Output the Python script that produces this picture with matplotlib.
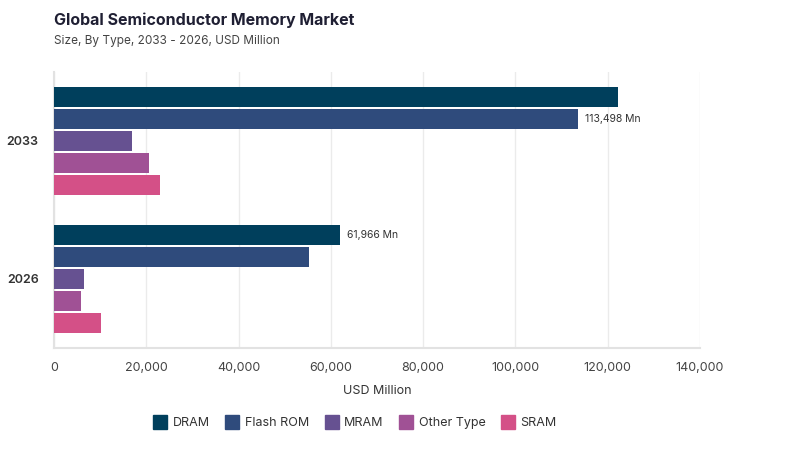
import numpy as np
from matplotlib import pyplot as plt
from matplotlib.lines import Line2D

# Market size by type, USD Million
years = ['2026', '2033']
types = ['DRAM', 'Flash ROM', 'MRAM', 'Other Type', 'SRAM']
colors = ['#003f5c', '#2f4b7c', '#665191', '#a05195', '#d45087']
values_2026 = [61966, 55330, 6500, 5780, 10120]
values_2033 = [122300, 113498, 16840, 20650, 22970]

# which bar gets a label, per year: (type index, text)
labels = {'2026': (0, '61,966 Mn'), '2033': (1, '113,498 Mn')}


def main():
    plt.rcParams['font.family'] = ['Inter', 'DejaVu Sans']
    fig = plt.figure(figsize=(8, 4.5), dpi=100)
    ax = fig.add_axes([0.0675, 0.2267, 0.8075, 0.6133])

    slot = 0.16
    height = 0.145
    y = np.arange(len(years))
    data = [values_2026, values_2033]
    for i, name in enumerate(types):
        offset = (2 - i) * slot
        vals = [d[i] for d in data]
        ax.barh(y + offset, vals, height=height, color=colors[i],
                label=name, zorder=3)

    for k, yr in enumerate(years):
        idx, text = labels[yr]
        ax.text(data[k][idx] + 1500, y[k] + (2 - idx) * slot, text,
                va='center', ha='left', fontsize=7.5, color='#333333')

    ax.set_ylim(-0.5, 1.5)
    ax.set_xlim(0, 140000)
    ax.set_xticks(np.arange(0, 140001, 20000))
    ax.set_xticklabels([f'{v:,}' for v in range(0, 140001, 20000)])
    ax.set_yticks(y)
    ax.set_yticklabels(years, fontweight='semibold')
    ax.tick_params(axis='x', length=0, pad=10, labelsize=9, labelcolor='#444444')
    ax.tick_params(axis='y', length=0, pad=11, labelsize=9, labelcolor='#333333')
    ax.grid(axis='x', color='#ebebeb', linewidth=1, zorder=0)
    for side in ['top', 'right']:
        ax.spines[side].set_visible(False)
    for side in ['left', 'bottom']:
        ax.spines[side].set_color('#e2e2e2')
        ax.spines[side].set_linewidth(1.5)
    ax.set_xlabel('USD Million', fontsize=9, color='#333333', labelpad=8)

    fig.text(0.0675, 0.955, 'Global Semiconductor Memory Market',
             fontsize=11.5, fontweight='bold', color='#1f1f33', va='center')
    fig.text(0.0675, 0.908, 'Size, By Type, 2033 - 2026, USD Million',
             fontsize=8.5, color='#444444', va='center')

    handles = [Line2D([], [], marker='s', linestyle='none', markersize=10,
                      markerfacecolor=c, markeredgecolor=c) for c in colors]
    fig.legend(handles, types, loc='center', bbox_to_anchor=(0.444, 0.06),
               ncol=5, frameon=False, fontsize=9, handlelength=1.0,
               handletextpad=0.5, columnspacing=1.3, labelcolor='#333333')

    fig.savefig('out.png', dpi=100)


if __name__ == '__main__':
    main()
